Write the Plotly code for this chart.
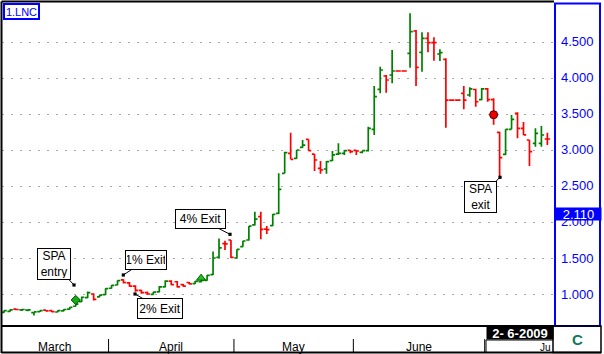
import plotly.graph_objects as go

# ---------------- data ----------------
opens = [0.745, 0.760, 0.790, 0.780, 0.775, 0.740, 0.755, 0.775, 0.770, 0.750,
         0.765, 0.790, 0.830, 0.895, 0.950, 1.000, 0.960, 0.990, 1.080, 1.125,
         1.195, 1.155, 1.110, 1.050, 1.020, 0.995, 1.030, 1.100, 1.180, 1.170,
         1.130, 1.160, 1.145, 1.170, 1.190, 1.270, 1.510, 1.700, 1.750, 1.500,
         1.657, 1.750, 1.960, 2.074, 1.900, 1.949, 2.120, 2.676, 2.954, 2.884,
         3.037, 3.148, 2.944, 2.745, 2.736, 2.852, 2.944, 2.954, 2.995, 2.995,
         2.968, 2.990, 3.287, 3.843, 4.028, 4.042, 4.097, 4.097, 4.343, 4.653,
         4.357, 4.551, 4.491, 4.333, 4.259, 3.694, 3.694, 3.787, 3.764, 3.840,
         3.700, 3.850, 3.700, 3.245, 2.940, 3.287, 3.509, 3.300, 3.139, 3.093,
         3.093, 3.153]
highs = [0.775, 0.785, 0.795, 0.790, 0.787, 0.755, 0.770, 0.778, 0.772, 0.775,
         0.790, 0.820, 0.890, 0.965, 1.035, 1.010, 0.990, 1.080, 1.125, 1.190,
         1.205, 1.165, 1.120, 1.060, 1.035, 1.030, 1.110, 1.190, 1.190, 1.180,
         1.140, 1.165, 1.180, 1.200, 1.265, 1.590, 1.770, 1.740, 1.750, 1.620,
         1.740, 1.944, 2.144, 2.144, 1.944, 2.111, 2.676, 2.977, 3.241, 3.000,
         3.139, 3.148, 2.944, 2.847, 2.847, 2.986, 3.093, 3.000, 3.000, 3.000,
         2.991, 3.324, 3.889, 4.157, 4.042, 4.389, 4.097, 4.097, 4.898, 4.667,
         4.634, 4.634, 4.565, 4.398, 4.273, 3.694, 3.694, 3.889, 3.870, 3.850,
         3.860, 3.860, 3.720, 3.254, 3.287, 3.486, 3.523, 3.390, 3.139, 3.301,
         3.333, 3.240]
lows = [0.740, 0.755, 0.775, 0.765, 0.760, 0.700, 0.750, 0.760, 0.745, 0.745,
        0.760, 0.785, 0.825, 0.890, 0.945, 0.910, 0.955, 0.985, 1.075, 1.120,
        1.145, 1.100, 1.030, 1.005, 0.990, 0.990, 1.025, 1.095, 1.120, 1.090,
        1.100, 1.135, 1.140, 1.160, 1.185, 1.265, 1.500, 1.610, 1.500, 1.500,
        1.657, 1.741, 1.950, 1.759, 1.833, 1.945, 2.110, 2.676, 2.870, 2.880,
        3.030, 2.991, 2.708, 2.671, 2.671, 2.847, 2.931, 2.931, 2.954, 2.931,
        2.954, 2.980, 3.208, 3.787, 3.796, 3.926, 4.097, 4.097, 4.143, 3.889,
        4.088, 4.356, 4.241, 4.236, 3.310, 3.694, 3.694, 3.565, 3.740, 3.600,
        3.690, 3.670, 3.350, 2.629, 2.931, 3.287, 3.162, 3.210, 2.778, 3.046,
        3.046, 3.069]
closes = [0.770, 0.780, 0.785, 0.785, 0.780, 0.752, 0.768, 0.765, 0.755, 0.770,
          0.785, 0.815, 0.860, 0.955, 1.020, 0.925, 0.985, 1.075, 1.120, 1.185,
          1.160, 1.110, 1.050, 1.020, 1.000, 1.025, 1.100, 1.180, 1.130, 1.100,
          1.110, 1.140, 1.175, 1.190, 1.260, 1.500, 1.640, 1.695, 1.510, 1.620,
          1.736, 1.944, 2.040, 1.898, 1.895, 2.107, 2.454, 2.963, 2.870, 3.000,
          3.069, 2.991, 2.861, 2.722, 2.838, 2.931, 2.954, 2.991, 2.977, 2.986,
          2.991, 3.300, 3.741, 4.111, 3.972, 4.097, 4.097, 4.097, 4.643, 4.148,
          4.551, 4.491, 4.491, 4.352, 3.694, 3.694, 3.694, 3.694, 3.850, 3.670,
          3.850, 3.700, 3.490, 2.893, 3.287, 3.426, 3.301, 3.210, 2.977, 3.231,
          3.208, 3.153]

y_ticks = [1.0, 1.5, 2.0, 2.5, 3.0, 3.5, 4.0, 4.5]
y_tick_labels = ["1.000", "1.500", "2.000", "2.500", "3.000", "3.500", "4.000", "4.500"]
last_value = 2.110

months = ["March", "April", "May", "June", "Ju"]
month_first_bar = [0, 18, 39, 59, 81]

entry_bar, entry_val = [12], [0.917]
trigger_bar, trigger_val = [33], [1.22]
exit_bar, exit_val = [82], [3.49]

# ---------------- layout helpers ----------------
W, H = 604, 354
def px(x):
    return x / W
def py(y):
    return 1 - y / H

PX_L, PX_R, PX_T, PX_B = 2, 554, 2, 326
STEP, FIRST = 5.97, 4.1
x_range = [(PX_L - FIRST) / STEP, (PX_R - FIRST) / STEP]
y_range = [1 + (294 - PX_B) / 72, 1 + (294 - PX_T) / 72]

GREEN = "#008000"
RED = "#ff0000"
FONT = "Liberation Sans, Arial, sans-serif"

idx = list(range(len(opens)))
up_idx = [i for i in idx if closes[i] > opens[i]]
dn_idx = [i for i in idx if closes[i] <= opens[i]]

fig = go.Figure()
for sel, col in ((up_idx, GREEN), (dn_idx, RED)):
    fig.add_trace(go.Ohlc(
        x=sel,
        open=[opens[i] for i in sel], high=[highs[i] for i in sel],
        low=[lows[i] for i in sel], close=[closes[i] for i in sel],
        increasing=dict(line=dict(color=col, width=1.7)),
        decreasing=dict(line=dict(color=col, width=1.7)),
        tickwidth=0.45, hoverinfo="skip", showlegend=False))

fig.add_trace(go.Scatter(x=entry_bar, y=entry_val, mode="markers", hoverinfo="skip",
                         marker=dict(symbol="diamond", size=7, color="#10b010",
                                     line=dict(color="#004000", width=1)), showlegend=False))
fig.add_trace(go.Scatter(x=trigger_bar, y=trigger_val, mode="markers", hoverinfo="skip",
                         marker=dict(symbol="triangle-up", size=8, color="#20c020",
                                     line=dict(color="#006000", width=1)), showlegend=False))
fig.add_trace(go.Scatter(x=exit_bar, y=exit_val, mode="markers", hoverinfo="skip",
                         marker=dict(symbol="circle", size=8, color="#ee0000",
                                     line=dict(color="#500000", width=1)), showlegend=False))

shapes = []
def line(x0, y0, x1, y1, color="black", width=1.5):
    shapes.append(dict(type="line", xref="paper", yref="paper",
                       x0=px(x0), y0=py(y0), x1=px(x1), y1=py(y1),
                       line=dict(color=color, width=width)))

line(1.5, 1.5, 554, 1.5, width=2)
line(1.5, 1.5, 1.5, 353, width=2)
line(1.5, 326, 601, 326, width=2)
line(1.5, 352.5, 601, 352.5, width=2)
shapes.append(dict(type="rect", xref="paper", yref="paper",
                   x0=px(555), y0=py(326), x1=px(600), y1=py(3.5),
                   line=dict(color="#0000ff", width=2)))
shapes.append(dict(type="rect", xref="paper", yref="paper",
                   x0=px(553), y0=py(352.5), x1=px(601), y1=py(326),
                   line=dict(color="black", width=1.5)))
line(486, 340, 486, 352.5, width=1)
line(486, 340, 553, 340, width=1)
# month separators
for b in month_first_bar[1:]:
    shapes.append(dict(type="line", xref="x", yref="paper",
                       x0=b - 0.5, x1=b - 0.5, y0=py(352), y1=py(339),
                       line=dict(color="black", width=1)))

ann = []
# month labels
bounds = month_first_bar + [len(opens)]
for k, name in enumerate(months):
    if k < len(months) - 1:
        cx = (bounds[k] + bounds[k + 1] - 1) / 2
        ann.append(dict(x=cx, xref="x", y=py(346.5), yref="paper", text=name,
                        showarrow=False, font=dict(family=FONT, size=12, color="black"),
                        xanchor="center", yanchor="middle"))
    else:
        ann.append(dict(x=px(552), xref="paper", y=py(347.5), yref="paper", text=name,
                        showarrow=False, font=dict(family=FONT, size=10, color="black"),
                        xanchor="right", yanchor="middle", borderpad=0))

# right axis labels
for v, t in zip(y_ticks, y_tick_labels):
    ann.append(dict(x=px(577.5), xref="paper", y=v, yref="y", text=t, showarrow=False,
                    font=dict(family=FONT, size=13, color="#0000ff"),
                    xanchor="center", yanchor="middle"))
ann.append(dict(x=px(578), xref="paper", y=last_value, yref="y", text=f"{last_value:.3f}",
                showarrow=False, bgcolor="#0000ff", width=45, height=12, borderpad=0,
                font=dict(family=FONT, size=13, color="white"),
                xanchor="center", yanchor="middle"))

# title box
ann.append(dict(x=px(21.5), xref="paper", y=py(11.5), yref="paper", text="1.LNC",
                showarrow=False, bordercolor="#0000ff", borderwidth=2, borderpad=0,
                width=33, height=13, font=dict(family=FONT, size=11, color="#0000ff"),
                xanchor="center", yanchor="middle"))

# date box
ann.append(dict(x=px(519.5), xref="paper", y=py(333), yref="paper", text="<b>2- 6-2009</b>",
                showarrow=False, bgcolor="black", width=66, height=12, borderpad=0,
                font=dict(family=FONT, size=13, color="white"),
                xanchor="center", yanchor="middle"))
# logo
ann.append(dict(x=px(577), xref="paper", y=py(339.5), yref="paper", text="<b>C</b>",
                showarrow=False, font=dict(family=FONT, size=15, color="#107860"),
                xanchor="center", yanchor="middle"))

# signal callouts
def callout(text, tx, ty, ax, ay, w, h):
    ann.append(dict(x=tx, y=ty, xref="x", yref="y", text=text, showarrow=True,
                    ax=ax, ay=ay, arrowhead=7, arrowsize=0.8, arrowwidth=1,
                    arrowcolor="black", standoff=0, startstandoff=0,
                    bgcolor="white", bordercolor="black", borderwidth=1, borderpad=1,
                    width=w, height=h, align="center",
                    font=dict(family=FONT, size=12, color="black")))

callout("SPA<br>entry", 11.71, 1.125, -19.8, -21, 30, 28)
callout("1% Exit", 19.97, 1.264, 23, -15, 38, 16)
callout("2% Exit", 21.93, 1.0, 25.2, 14.5, 42, 17)
callout("4% Exit", 37.84, 1.829, -29.2, -15, 47, 16)
callout("SPA<br>exit", 83.07, 2.621, -19.8, 19.4, 29, 28)

fig.update_layout(
    width=W, height=H, margin=dict(l=0, r=0, t=0, b=0),
    paper_bgcolor="white", plot_bgcolor="white",
    shapes=shapes, annotations=ann, showlegend=False,
    xaxis=dict(domain=[px(PX_L), px(PX_R)], range=x_range, showgrid=False,
               showticklabels=False, zeroline=False, showline=False, ticks="",
               rangeslider=dict(visible=False), fixedrange=True),
    yaxis=dict(domain=[py(PX_B), py(PX_T)], range=y_range, tickvals=y_ticks,
               showticklabels=False, showgrid=True, gridcolor="#a8a8a8",
               griddash="2px,7px", gridwidth=1, zeroline=False, showline=False,
               ticks="", fixedrange=True),
)

fig.write_html("out.html")
